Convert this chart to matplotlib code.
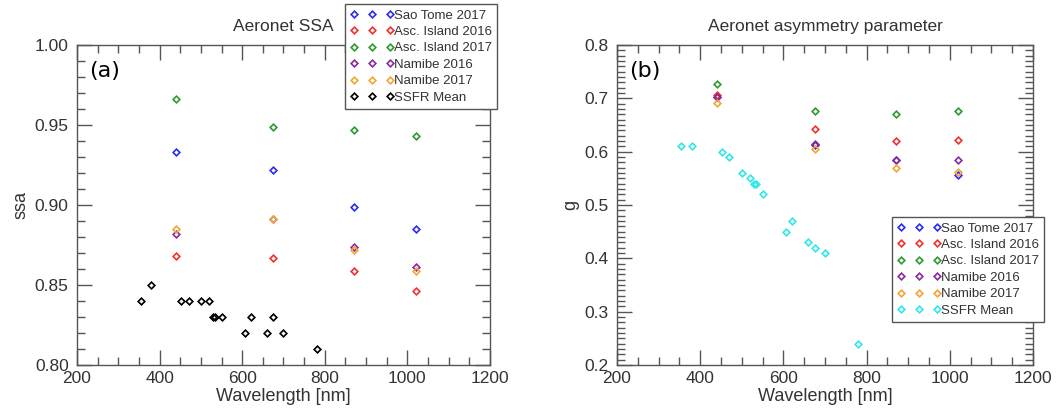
import matplotlib.pyplot as plt
from matplotlib.ticker import MultipleLocator

# AERONET wavelengths [nm]
aeronet_wl = [440, 675, 870, 1020]
# SSFR wavelengths [nm]
ssfr_wl = [355, 380, 452, 470, 500, 520, 530, 535, 550, 607, 621, 660, 675, 700, 780]

labels = ['Sao Tome 2017', 'Asc. Island 2016', 'Asc. Island 2017', 'Namibe 2016', 'Namibe 2017', 'SSFR Mean']

# single scattering albedo
ssa_sao_tome_2017 = [0.933, 0.922, 0.899, 0.885]
ssa_asc_2016 = [0.868, 0.867, 0.859, 0.846]
ssa_asc_2017 = [0.966, 0.949, 0.947, 0.943]
ssa_namibe_2016 = [0.882, 0.891, 0.874, 0.861]
ssa_namibe_2017 = [0.885, 0.891, 0.872, 0.859]
ssa_ssfr = [0.84, 0.85, 0.84, 0.84, 0.84, 0.84, 0.83, 0.83, 0.83, 0.82, 0.83, 0.82, 0.83, 0.82, 0.81]

# asymmetry parameter
g_sao_tome_2017 = [0.703, 0.612, 0.584, 0.556]
g_asc_2016 = [0.706, 0.642, 0.620, 0.621]
g_asc_2017 = [0.727, 0.676, 0.671, 0.677]
g_namibe_2016 = [0.702, 0.614, 0.585, 0.585]
g_namibe_2017 = [0.692, 0.605, 0.570, 0.562]
g_ssfr = [0.61, 0.61, 0.60, 0.59, 0.56, 0.55, 0.54, 0.54, 0.52, 0.45, 0.47, 0.43, 0.42, 0.41, 0.24]

site_colors = ['#2a2af5', '#f03030', '#2e9a2e', '#8a2a9a', '#f5a530']
text_color = '#333333'

plt.rcParams['font.family'] = ['Liberation Sans', 'DejaVu Sans']
plt.rcParams['text.color'] = text_color
plt.rcParams['axes.labelcolor'] = text_color
plt.rcParams['xtick.color'] = '#555555'
plt.rcParams['ytick.color'] = '#555555'
plt.rcParams['xtick.labelcolor'] = text_color
plt.rcParams['ytick.labelcolor'] = text_color


def style_axes(ax, ylim, ymajor, yminor):
    ax.set_xlim(200, 1200)
    ax.set_ylim(*ylim)
    ax.xaxis.set_major_locator(MultipleLocator(200))
    ax.xaxis.set_minor_locator(MultipleLocator(50))
    ax.yaxis.set_major_locator(MultipleLocator(ymajor))
    ax.yaxis.set_minor_locator(MultipleLocator(yminor))
    ax.tick_params(which='both', direction='in', top=True, right=True, labelsize=12.5)
    ax.tick_params(which='major', length=11, width=1.0)
    ax.tick_params(which='minor', length=6, width=1.0)
    ax.tick_params(axis='x', pad=4)
    ax.tick_params(axis='y', pad=6)
    for s in ax.spines.values():
        s.set_color('#555555')
        s.set_linewidth(1.0)
    ax.set_xlabel('Wavelength [nm]', fontsize=13, labelpad=2)


def plot_panel(ax, series, ssfr, ssfr_color, title, ylabel, tag):
    mk = dict(linestyle='none', marker='D', markersize=3.4, markerfacecolor='none', markeredgewidth=1.2)
    for vals, color, label in zip(series, site_colors, labels):
        ax.plot(aeronet_wl, vals, markeredgecolor=color, label=label, **mk)
    ax.plot(ssfr_wl, ssfr, markeredgecolor=ssfr_color, label=labels[-1], **mk)
    ax.set_title(title, fontsize=12.5, pad=10)
    ax.set_ylabel(ylabel, fontsize=13)
    ax.text(0.03, 0.92, tag, transform=ax.transAxes, fontsize=16, family='DejaVu Sans',
            color='black', va='center', ha='left')


fig = plt.figure(figsize=(10.59, 4.11), dpi=100)
ax1 = fig.add_axes([0.0727, 0.112, 0.390, 0.7786])
ax2 = fig.add_axes([0.5826, 0.112, 0.3928, 0.7786])

plot_panel(ax1, [ssa_sao_tome_2017, ssa_asc_2016, ssa_asc_2017, ssa_namibe_2016, ssa_namibe_2017],
           ssa_ssfr, 'black', 'Aeronet SSA', 'ssa', '(a)')
style_axes(ax1, (0.80, 1.00), 0.05, 0.01)
ax1.yaxis.set_major_formatter(plt.FormatStrFormatter('%.2f'))

plot_panel(ax2, [g_sao_tome_2017, g_asc_2016, g_asc_2017, g_namibe_2016, g_namibe_2017],
           g_ssfr, '#30e8e8', 'Aeronet asymmetry parameter', 'g', '(b)')
style_axes(ax2, (0.2, 0.8), 0.1, 0.01)
ax2.yaxis.set_major_formatter(plt.FormatStrFormatter('%.1f'))

legend_kw = dict(numpoints=3, handlelength=3.3, handletextpad=0.0, fontsize=9.5, fancybox=False,
                 framealpha=1, edgecolor='#555555', borderaxespad=0, borderpad=0.4, labelspacing=0.32,
                 loc='upper right', bbox_transform=fig.transFigure)
leg1 = ax1.legend(bbox_to_anchor=(497 / 1059, 1 - 4 / 411), **legend_kw)
leg2 = ax2.legend(bbox_to_anchor=(1044 / 1059, 1 - 217 / 411), **legend_kw)
for leg in (leg1, leg2):
    leg.get_frame().set_linewidth(1.0)
    leg.set_zorder(5)

fig.savefig('out.png', dpi=100)
